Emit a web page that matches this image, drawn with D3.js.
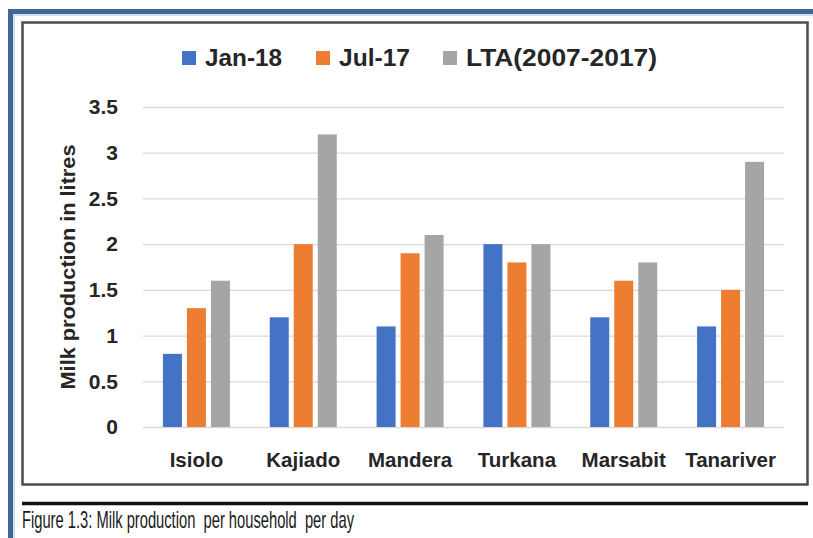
<!DOCTYPE html>
<html>
<head>
<meta charset="utf-8">
<script src="https://cdn.jsdelivr.net/npm/d3@7"></script>
<style>
  html, body { margin: 0; padding: 0; background: #fff; }
  svg { display: block; }
  text { font-family: "Liberation Sans", Arial, sans-serif; }
</style>
</head>
<body>
<svg id="chart" width="813" height="538"></svg>
<script>
const categories = ["Isiolo", "Kajiado", "Mandera", "Turkana", "Marsabit", "Tanariver"];
const seriesNames = ["Jan-18", "Jul-17", "LTA(2007-2017)"];
const jan18 = [0.8, 1.2, 1.1, 2.0, 1.2, 1.1];
const jul17 = [1.3, 2.0, 1.9, 1.8, 1.6, 1.5];
const lta = [1.6, 3.2, 2.1, 2.0, 1.8, 2.9];
const yTicks = [0, 0.5, 1, 1.5, 2, 2.5, 3, 3.5];
const yTickLabels = ["0", "0.5", "1", "1.5", "2", "2.5", "3", "3.5"];
const colors = ["#4472C4", "#ED7D31", "#A5A5A5"];
const yTitle = "Milk production in litres";
const caption = "Figure 1.3: Milk production  per household  per day";

const seriesValues = [jan18, jul17, lta];
const svg = d3.select("#chart");

// frames
svg.append("path")
  .attr("d", "M10.5,538 V11.5 H813")
  .attr("fill", "none").attr("stroke", "#3f6699").attr("stroke-width", 5);
svg.append("path")
  .attr("d", "M14,538 V15 H813")
  .attr("fill", "none").attr("stroke", "#c9d6e8").attr("stroke-width", 1.5);
svg.append("rect")
  .attr("x", 22.5).attr("y", 22.5).attr("width", 785).attr("height", 462)
  .attr("fill", "none").attr("stroke", "#4d4d4d").attr("stroke-width", 2.5);
svg.append("line")
  .attr("x1", 22).attr("x2", 808).attr("y1", 503.5).attr("y2", 503.5)
  .attr("stroke", "#111").attr("stroke-width", 3.5);
svg.append("text")
  .attr("x", 22).attr("y", 527.5)
  .style("white-space", "pre")
  .style("font-size", "24px")
  .attr("fill", "#1a1a1a")
  .attr("textLength", 332).attr("lengthAdjust", "spacingAndGlyphs")
  .text(caption);

// scales
const x0 = d3.scaleBand().domain(categories).range([143, 784]).paddingInner(0).paddingOuter(0);
const x1 = d3.scaleBand().domain(seriesNames).range([0, x0.bandwidth()])
  .paddingInner(0.208).paddingOuter(0.83);
const y = d3.scaleLinear().domain([0, 3.5]).range([427, 107]);

// gridlines
const yAxis = d3.axisLeft(y).tickValues(yTicks)
  .tickSize(-(784 - 143)).tickPadding(25)
  .tickFormat((d, i) => yTickLabels[i]);
const gy = svg.append("g").attr("transform", "translate(143,0)").call(yAxis);
gy.select(".domain").remove();
gy.selectAll(".tick line").attr("stroke", "#d9d9d9").attr("stroke-width", 1.3);
gy.selectAll(".tick text")
  .attr("font-size", 21).attr("font-weight", "bold").attr("fill", "#262626")
  .attr("font-family", "Liberation Sans, Arial, sans-serif");

// bars
const groups = svg.append("g").selectAll("g")
  .data(categories).join("g")
  .attr("transform", d => `translate(${x0(d)},0)`);
groups.selectAll("rect")
  .data((c, ci) => seriesNames.map((s, si) => ({ s, si, v: seriesValues[si][ci] })))
  .join("rect")
  .attr("x", d => x1(d.s))
  .attr("width", x1.bandwidth())
  .attr("y", d => y(d.v))
  .attr("height", d => y(0) - y(d.v))
  .attr("fill", d => colors[d.si]);

// x axis labels
const xAxis = d3.axisBottom(x0).tickSize(0).tickPadding(25);
const gx = svg.append("g").attr("transform", "translate(0,427)").call(xAxis);
gx.select(".domain").remove();
gx.selectAll(".tick text")
  .attr("font-size", 20.5).attr("font-weight", "bold").attr("fill", "#262626")
  .attr("font-family", "Liberation Sans, Arial, sans-serif");

// y title
svg.append("text")
  .attr("transform", "translate(75,267) rotate(-90)")
  .attr("text-anchor", "middle")
  .attr("font-size", 21).attr("font-weight", "bold").attr("fill", "#262626")
  .attr("textLength", 245).attr("lengthAdjust", "spacingAndGlyphs")
  .text(yTitle);

// legend
const legendX = [182, 316, 443];
const legendW = [77, 71, 191];
const lg = svg.append("g").selectAll("g").data(seriesNames).join("g")
  .attr("transform", (d, i) => `translate(${legendX[i]},0)`);
lg.append("rect").attr("x", 0).attr("y", 51).attr("width", 14).attr("height", 14)
  .attr("fill", (d, i) => colors[i]);
lg.append("text").attr("x", 23).attr("y", 66)
  .attr("font-size", 23).attr("font-weight", "bold").attr("fill", "#262626")
  .attr("textLength", (d, i) => legendW[i]).attr("lengthAdjust", "spacingAndGlyphs")
  .text(d => d);
</script>
</body>
</html>
